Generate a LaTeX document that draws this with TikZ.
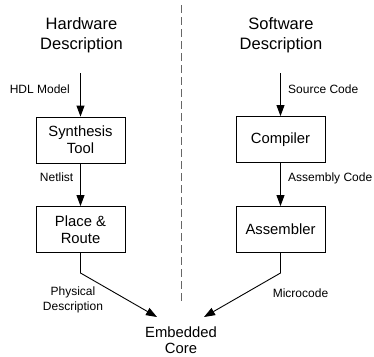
\documentclass[tikz,border=0pt]{standalone}
\usepackage{fontspec}
\setmainfont{Liberation Sans}
\usetikzlibrary{arrows.meta}

\tikzset{
  flowbox/.style={draw, rectangle, line width=0.9pt, minimum width=89pt, minimum height=46pt,
    align=center, font=\fontsize{14.8}{17}\selectfont},
  coltitle/.style={align=center, font=\fontsize{16.5}{20}\selectfont},
  flowlbl/.style={align=center, inner sep=0pt, font=\fontsize{12}{15}\selectfont},
  flowarr/.style={line width=0.9pt, -{Triangle[length=11pt,width=8pt]}}
}

\begin{document}
\begin{tikzpicture}[x=1pt, y=-1pt]
    \useasboundingbox (0,0) rectangle (374,356);

    % Titel der beiden Spalten
    \node[coltitle] (hwtitle) at (81.5,35) {Hardware\\Description};
    \node[coltitle] (swtitle) at (281,35) {Software\\Description};

    % Trennlinie
    \coordinate (sep1) at (181,5);
    \coordinate (sep2) at (181,302);
    \draw[black!60, line width=0.9pt, dash pattern=on 8pt off 4pt] (sep1) -- (sep2);

    % Kästen
    \node[flowbox] (synth) at (80.5,140) {Synthesis\\Tool};
    \node[flowbox] (place) at (80.5,229.5) {Place \&\\Route};
    \node[flowbox] (comp) at (280.5,139.5) {Compiler};
    \node[flowbox] (asm) at (280.5,229.5) {Assembler};
    \node[align=center, font=\fontsize{14.8}{16}\selectfont] (core) at (181,340) {Embedded\\Core};

    % Hilfspunkte
    \coordinate (hwin) at (80.5,73);
    \coordinate (swin) at (280.5,73);
    \coordinate (hwbend) at (80.5,273);
    \coordinate (swbend) at (280.5,273);
    \coordinate (hwtip) at (157,317);
    \coordinate (swtip) at (204,317);

    % Pfeile
    \draw[flowarr] (hwin) -- (synth.north);
    \draw[flowarr] (synth.south) -- (place.north);
    \draw[flowarr] (place.south) -- (hwbend) -- (hwtip);
    \draw[flowarr] (swin) -- (comp.north);
    \draw[flowarr] (comp.south) -- (asm.north);
    \draw[flowarr] (asm.south) -- (swbend) -- (swtip);

    % Beschriftungen
    \node[flowlbl, anchor=east] (hdl) at (70,89) {HDL Model};
    \node[flowlbl, anchor=east] (net) at (73.5,177) {Netlist};
    \node[flowlbl] (phys) at (73,299.5) {Physical\\Description};
    \node[flowlbl, anchor=west] (src) at (288,89) {Source Code};
    \node[flowlbl, anchor=west] (asmc) at (288,178) {Assembly Code};
    \node[flowlbl] (micro) at (300.5,293) {Microcode};
\end{tikzpicture}
\end{document}
